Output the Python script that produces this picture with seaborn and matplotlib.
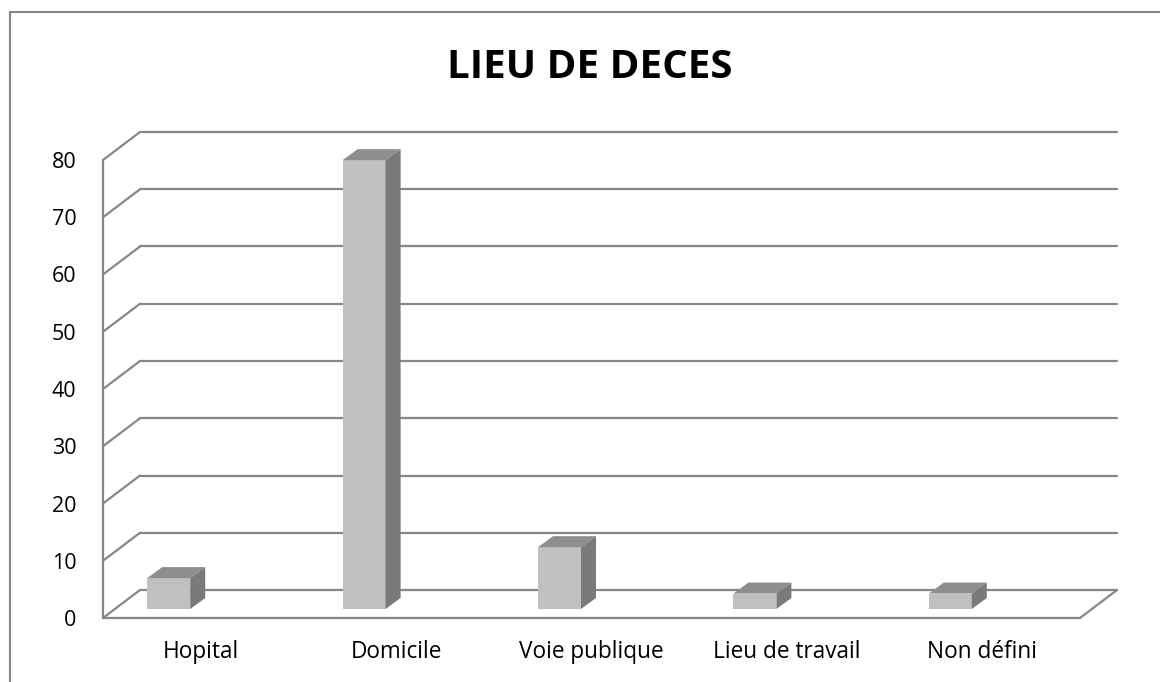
import numpy as np
import pandas as pd
import matplotlib
matplotlib.use("Agg")
import matplotlib.pyplot as plt
from matplotlib.patches import Polygon
from matplotlib.transforms import ScaledTranslation
import seaborn as sns

# données (pourcentages, n = 37)
lieux = ["Hopital", "Domicile", "Voie publique", "Lieu de travail", "Non défini"]
pourcentages = [5.4, 78.4, 10.8, 2.7, 2.7]
graduations = [0, 10, 20, 30, 40, 50, 60, 70, 80]
titre = "LIEU DE DECES"

df = pd.DataFrame({"lieu": lieux, "pct": pourcentages})

sns.set_style("white")
plt.rcParams["font.family"] = ["Open Sans", "DejaVu Sans"]
plt.rcParams["text.color"] = "black"
plt.rcParams["xtick.color"] = "black"
plt.rcParams["ytick.color"] = "black"

W, H = 1160, 682
DPI = 100
gris_ligne = "#878787"

fig = plt.figure(figsize=(W / DPI, H / DPI), dpi=DPI)
# axe = plan avant du graphique 3D
ax = fig.add_axes([103 / W, 1 - 618 / H, 977 / W, 458 / H])

sns.barplot(data=df, x="lieu", y="pct", color="#C0C0C0", width=0.22,
            saturation=1, ax=ax, zorder=5)
ax.set_xlim(-0.5, len(lieux) - 0.5)
ax.set_ylim(0, graduations[-1])
ax.set_xlabel("")
ax.set_ylabel("")
for s in ax.spines.values():
    s.set_visible(False)

# échelle pixel -> données
p0, p1 = ax.transData.transform([[0, 0], [1, 1]])
pxx, pxy = p1 - p0
prof_x, prof_y = 37 / pxx, 28 / pxy          # profondeur du fond
barre_x, barre_y = 15 / pxx, 11 / pxy        # profondeur des barres

# murs : fond, côté gauche, sol
x0, x1 = -0.5, len(lieux) - 0.5
for v in graduations:
    ax.plot([x0 + prof_x, x1 + prof_x], [v + prof_y, v + prof_y],
            color=gris_ligne, lw=1.6, clip_on=False, zorder=1)
    ax.plot([x0, x0 + prof_x], [v, v + prof_y],
            color=gris_ligne, lw=1.6, clip_on=False, zorder=1)
ax.plot([x0, x0], [0, graduations[-1]], color=gris_ligne, lw=1.6, clip_on=False, zorder=1)
ax.plot([x0, x1], [0, 0], color=gris_ligne, lw=1.6, clip_on=False, zorder=1)
ax.plot([x1, x1 + prof_x], [0, prof_y], color=gris_ligne, lw=1.6, clip_on=False, zorder=1)

# barres placées au milieu de la profondeur
decal = ax.transData + ScaledTranslation(-32 / DPI, 9 / DPI, fig.dpi_scale_trans)
for p in ax.patches:
    p.set_transform(decal)
    p.set_edgecolor("none")
    bx, bw, bh = p.get_x(), p.get_width(), p.get_height()
    dessus = [(bx, bh), (bx + bw, bh), (bx + bw + barre_x, bh + barre_y), (bx + barre_x, bh + barre_y)]
    cote = [(bx + bw, 0), (bx + bw + barre_x, barre_y), (bx + bw + barre_x, bh + barre_y), (bx + bw, bh)]
    ax.add_patch(Polygon(dessus, closed=True, facecolor="#8E8E8E", edgecolor="none",
                         transform=decal, clip_on=False, zorder=6))
    ax.add_patch(Polygon(cote, closed=True, facecolor="#7A7A7A", edgecolor="none",
                         transform=decal, clip_on=False, zorder=6))

ax.set_yticks(graduations)
ax.set_yticklabels([str(v) for v in graduations])
ax.tick_params(axis="y", length=0, pad=19, labelsize=15.5)
ax.tick_params(axis="x", length=0, pad=16, labelsize=16.3)

fig.text(589.5 / W, 1 - 78 / H, titre, ha="center", va="baseline",
         fontsize=29, fontweight="bold")

# cadre extérieur
fig.add_artist(plt.Line2D([10 / W, 1], [1 - 12 / H, 1 - 12 / H], color=gris_ligne, lw=1.5))
fig.add_artist(plt.Line2D([10 / W, 10 / W], [0, 1 - 12 / H], color=gris_ligne, lw=1.5))

fig.savefig("out.png", dpi=DPI, facecolor="white")
